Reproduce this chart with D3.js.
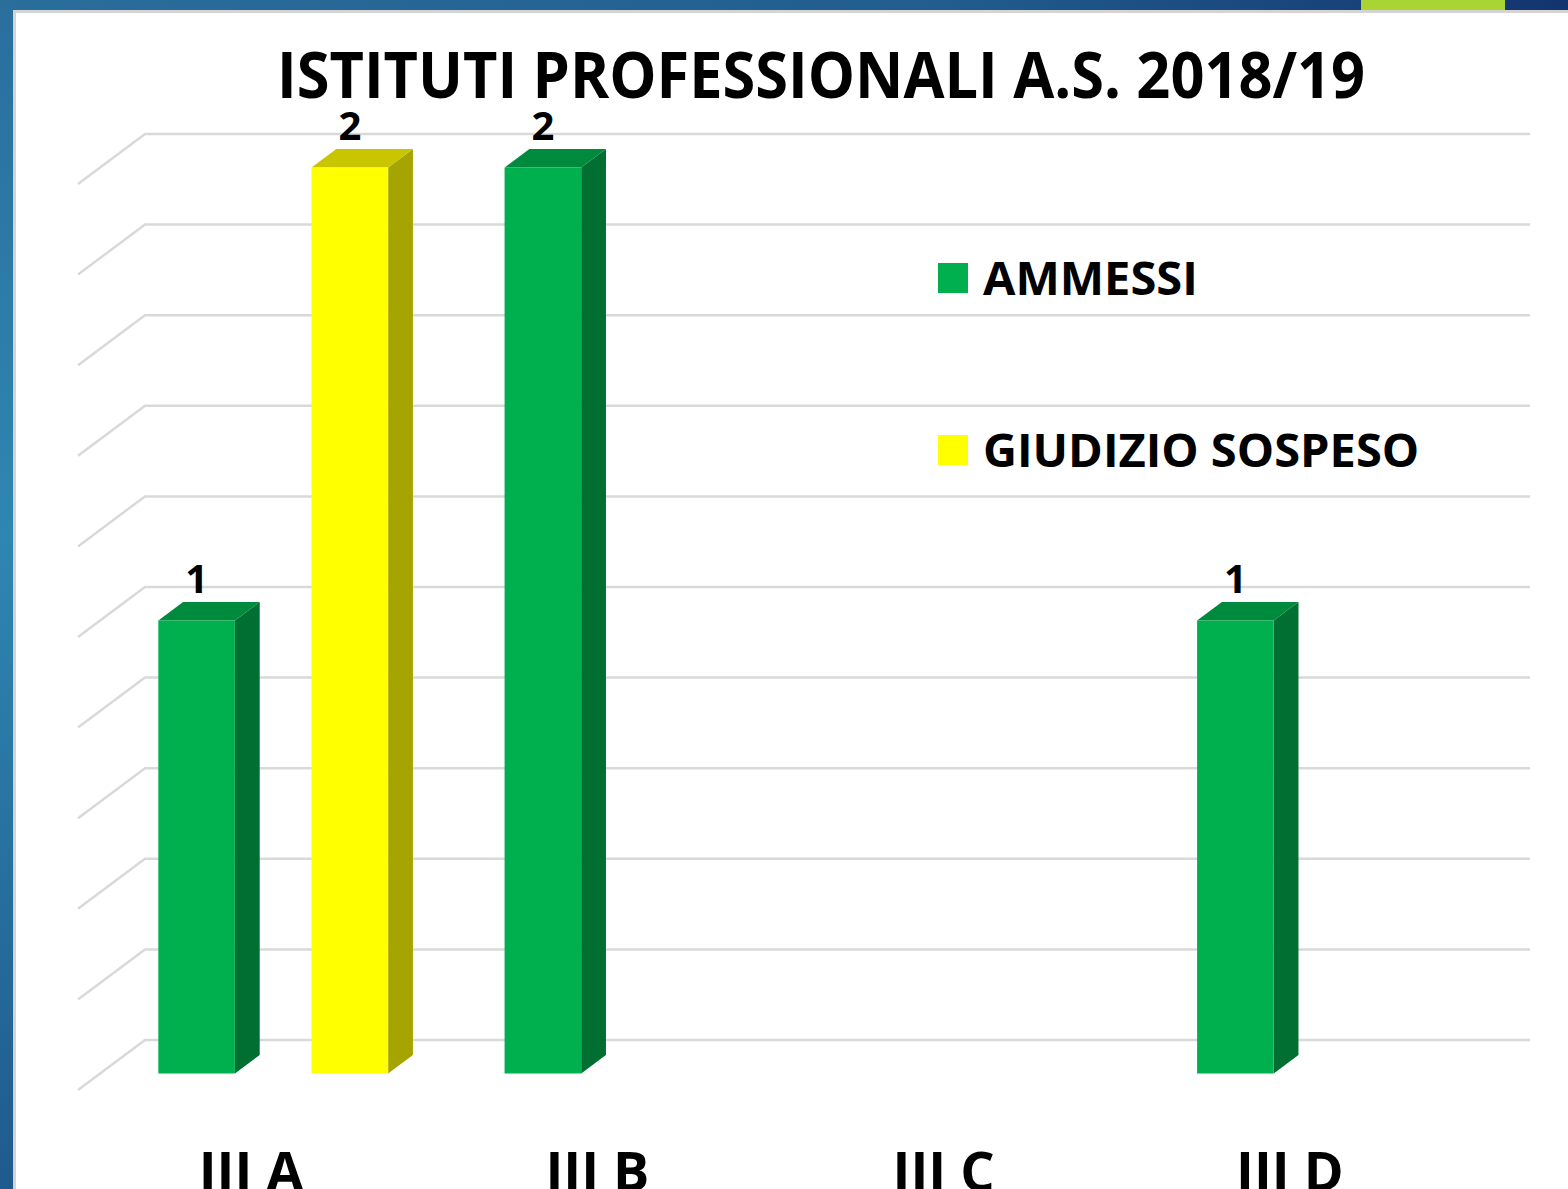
<!DOCTYPE html>
<html>
<head>
<meta charset="utf-8">
<script src="https://cdn.jsdelivr.net/npm/d3@7"></script>
<style>
  body { margin: 0; background: #fff; }
  svg { display: block; }
  text { font-family: "Open Sans", "DejaVu Sans", sans-serif; font-weight: bold; fill: #000; }
</style>
</head>
<body>
<script>
'use strict';

// chart data
const categories = ["III A", "III B", "III C", "III D"]
const seriesNames = ["AMMESSI", "GIUDIZIO SOSPESO"]
const ammessi = [1, 2, null, 1]
const giudizioSospeso = [2, null, null, null]
const yDomain = [0, 2]

const m = {
  width: 1568,
  height: 1189,
  wallLeft: 145,
  wallRight: 1530,
  wallTop: 134,
  wallBottom: 1040,
  depthX: -67,   // full depth of the floor, screen offset
  depthY: 50,
  barFront: 0.67, // bar depth, fraction of floor depth
  barBack: 0.30
}

const colors = {
  "AMMESSI": { front: "#00b04f", side: "#006f31", top: "#008a3d" },
  "GIUDIZIO SOSPESO": { front: "#ffff00", side: "#a6a400", top: "#c9c500" }
}

const svg = d3.select('body')
  .append('svg')
  .attr('width', m.width)
  .attr('height', m.height)

drawFrame()

// scales
const x0 = d3.scaleBand()
  .domain(categories)
  .range([m.wallLeft, m.wallRight])

const x1 = d3.scaleBand()
  .domain(seriesNames)
  .range([0, x0.bandwidth()])
  .paddingInner(0.5)
  .paddingOuter(0.38)

const y = d3.scaleLinear()
  .domain(yDomain)
  .range([m.wallBottom, m.wallTop])

drawGrid()
drawBars()
drawLabels()
drawLegend()

// slide background: blue strips and grey edge
function drawFrame() {
  const defs = svg.append('defs')
  const gTop = defs.append('linearGradient').attr('id', 'gTop')
  gTop.append('stop').attr('offset', '0%').attr('stop-color', '#2a6e9c')
  gTop.append('stop').attr('offset', '60%').attr('stop-color', '#215d8f')
  gTop.append('stop').attr('offset', '100%').attr('stop-color', '#13346f')
  const gLeft = defs.append('linearGradient').attr('id', 'gLeft')
    .attr('x1', 0).attr('y1', 0).attr('x2', 0).attr('y2', 1)
  gLeft.append('stop').attr('offset', '0%').attr('stop-color', '#2a6e9c')
  gLeft.append('stop').attr('offset', '45%').attr('stop-color', '#2f86b2')
  gLeft.append('stop').attr('offset', '100%').attr('stop-color', '#1f5a8e')

  svg.append('rect').attr('x', 0).attr('y', 0).attr('width', m.width).attr('height', 10)
    .style('fill', 'url(#gTop)')
  svg.append('rect').attr('x', 1361).attr('y', 0).attr('width', 144).attr('height', 10)
    .style('fill', '#aad433')
  svg.append('rect').attr('x', 0).attr('y', 0).attr('width', 13).attr('height', m.height)
    .style('fill', 'url(#gLeft)')
  // grey edge of the white panel
  svg.append('path')
    .attr('d', 'M14.5,' + m.height + ' V11.5 H' + m.width)
    .style('fill', 'none')
    .style('stroke', '#d4d4d4')
    .style('stroke-width', 3)
}

// back wall lines and left wall diagonals
function drawGrid() {
  const ticks = y.ticks(10)
  const g = svg.append('g').attr('id', 'grid')
    .style('stroke', '#d9d9d9')
    .style('stroke-width', 2.5)
    .style('fill', 'none')

  g.selectAll('path')
    .data(ticks)
    .enter()
    .append('path')
    .attr('d', (t) => 'M' + m.wallRight + ',' + y(t) + ' H' + m.wallLeft +
      ' l' + m.depthX + ',' + m.depthY)
}

function barRows() {
  const rows = []
  categories.forEach((c, i) => {
    rows.push({ cat: c, series: "AMMESSI", value: ammessi[i] })
    rows.push({ cat: c, series: "GIUDIZIO SOSPESO", value: giudizioSospeso[i] })
  })
  return rows.filter((r) => r.value !== null)
}

// project a wall point (px, py) forward by depth fraction d
function proj(px, py, d) {
  return [px + d * m.depthX, py + d * m.depthY]
}

function drawBars() {
  const rows = barRows()
  const g = svg.append('g').attr('id', 'bars')
  const f = m.barFront, b = m.barBack

  rows.forEach((r) => {
    const xa = x0(r.cat) + x1(r.series)
    const xb = xa + x1.bandwidth()
    const yt = y(r.value)
    const yb = y(0)
    const c = colors[r.series]

    const front = [proj(xa, yt, f), proj(xb, yt, f), proj(xb, yb, f), proj(xa, yb, f)]
    const side = [proj(xb, yt, f), proj(xb, yt, b), proj(xb, yb, b), proj(xb, yb, f)]
    const top = [proj(xa, yt, f), proj(xa, yt, b), proj(xb, yt, b), proj(xb, yt, f)]

    g.append('polygon').attr('points', side.join(' ')).style('fill', c.side)
    g.append('polygon').attr('points', top.join(' ')).style('fill', c.top)
    g.append('polygon').attr('points', front.join(' ')).style('fill', c.front)

    // value label
    const lx = (xa + xb) / 2 + f * m.depthX
    const ly = yt + b * m.depthY - 9
    g.append('text')
      .attr('x', lx)
      .attr('y', ly)
      .attr('text-anchor', 'middle')
      .style('font-size', '40px')
      .text(r.value)
  })
}

function drawLabels() {
  svg.append('text')
    .attr('x', 821)
    .attr('y', 98)
    .attr('id', 'title')
    .attr('text-anchor', 'middle')
    .attr('textLength', 1088)
    .attr('lengthAdjust', 'spacingAndGlyphs')
    .style('font-size', '64px')
    .text("ISTITUTI PROFESSIONALI A.S. 2018/19")

  // category labels on the front edge of the floor
  svg.append('g').attr('id', 'x-labels')
    .selectAll('text')
    .data(categories)
    .enter()
    .append('text')
    .attr('x', (d) => x0(d) + x0.bandwidth() / 2 + m.depthX)
    .attr('y', 1191)
    .attr('text-anchor', 'middle')
    .style('font-size', '54px')
    .text((d) => d)
}

function drawLegend() {
  const legY = [278, 450]
  const g = svg.append('g').attr('id', 'legend')
  seriesNames.forEach((s, i) => {
    g.append('rect')
      .attr('x', 938)
      .attr('y', legY[i] - 15)
      .attr('width', 30)
      .attr('height', 30)
      .style('fill', colors[s].front)
    g.append('text')
      .attr('x', 983)
      .attr('y', legY[i] + 17)
      .style('font-size', '47px')
      .text(s)
  })
}
</script>
</body>
</html>
